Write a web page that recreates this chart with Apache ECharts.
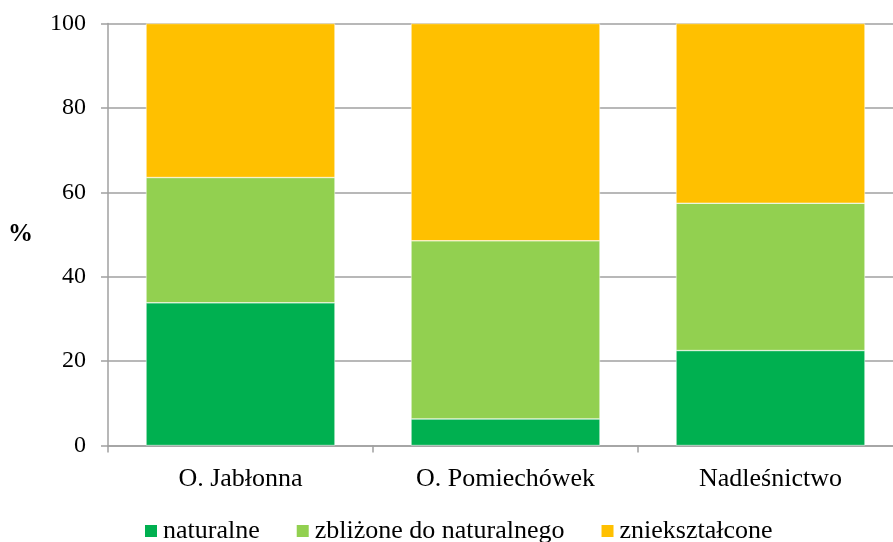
<!DOCTYPE html>
<html>
<head>
<meta charset="utf-8">
<script src="https://cdn.jsdelivr.net/npm/echarts@6/dist/echarts.min.js"></script>
<style>html,body{margin:0;padding:0;background:#fff}#c{width:893px;height:542px}</style>
</head>
<body>
<div id="c"></div>
<script>
const categories = ['O. Jabłonna', 'O. Pomiechówek', 'Nadleśnictwo'];
const naturalne = [33.8, 6.3, 22.5];
const zblizone = [29.7, 42.2, 34.9];
const znieksztalcone = [36.5, 51.5, 42.6];
const seriesNames = ['naturalne', 'zbliżone do naturalnego', 'zniekształcone'];
const yTicks = [0, 20, 40, 60, 80, 100];

const FONT = '"Liberation Serif", "DejaVu Serif", serif';
const AXIS = '#a0a0a0';
const chart = echarts.init(document.getElementById('c'), null, {renderer: 'canvas'});
const mk = (name, data, color) => ({
  name, type: 'bar', stack: 's', data, barWidth: '71.3%',
  itemStyle: {color, borderColor: '#fff', borderWidth: 0.5},
  emphasis: {disabled: true}
});
chart.setOption({
  animation: false,
  textStyle: {fontFamily: FONT},
  grid: {left: 108, right: -10, top: 23.5, bottom: 96.5, outerBoundsMode: 'none', containLabel: false},
  legend: {
    left: 143, top: 518, padding: 0, itemWidth: 14, itemHeight: 14, itemGap: 35,
    icon: 'rect',
    textStyle: {fontFamily: FONT, fontSize: 26, color: '#000'},
    data: seriesNames
  },
  xAxis: {
    type: 'category', data: categories,
    axisLine: {lineStyle: {color: AXIS, width: 1.5}},
    axisTick: {show: true, length: 7, lineStyle: {color: AXIS, width: 1.5}},
    axisLabel: {fontFamily: FONT, fontSize: 26, color: '#000', margin: 21}
  },
  yAxis: {
    type: 'value', min: yTicks[0], max: yTicks[yTicks.length - 1], interval: 20,
    name: '%', nameLocation: 'middle', nameRotate: 0, nameGap: 75,
    nameTextStyle: {fontFamily: FONT, fontSize: 25, fontWeight: 'bold', color: '#000', padding: [6, 0, 0, 0]},
    axisLine: {show: true, lineStyle: {color: AXIS, width: 1.5}},
    axisTick: {show: true, length: 7, lineStyle: {color: AXIS, width: 1.5}},
    axisLabel: {fontFamily: FONT, fontSize: 24, color: '#000', margin: 22},
    splitLine: {show: true, lineStyle: {color: AXIS, width: 1.5}}
  },
  series: [
    mk(seriesNames[0], naturalne, '#00B050'),
    mk(seriesNames[1], zblizone, '#92D050'),
    mk(seriesNames[2], znieksztalcone, '#FFC000')
  ]
});
</script>
</body>
</html>
